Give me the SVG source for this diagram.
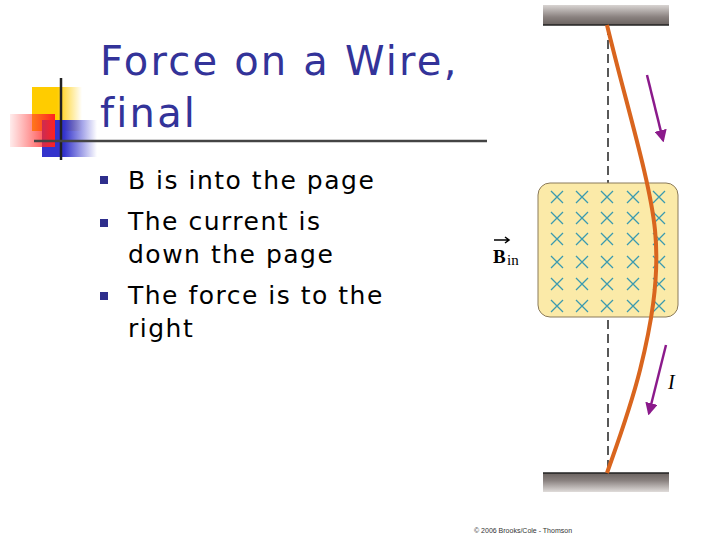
<svg xmlns="http://www.w3.org/2000/svg" width="720" height="540" viewBox="0 0 720 540">
<defs>
<linearGradient id="gy" x1="0" x2="1"><stop offset="0.5" stop-color="#ffcc00"/><stop offset="1" stop-color="#ffcc00" stop-opacity="0"/></linearGradient>
<linearGradient id="gr" x1="1" x2="0"><stop offset="0" stop-color="#ff2020"/><stop offset="1" stop-color="#ff4040" stop-opacity="0.1"/></linearGradient>
<linearGradient id="gb" x1="0" x2="1"><stop offset="0.4" stop-color="#3333cc"/><stop offset="1" stop-color="#3333cc" stop-opacity="0"/></linearGradient>
<linearGradient id="bar" x1="0" y1="0" x2="0" y2="1"><stop offset="0" stop-color="#d8d4d2"/><stop offset="0.6" stop-color="#8a8280"/><stop offset="1" stop-color="#6a625f"/></linearGradient>
<linearGradient id="bar2" x1="0" y1="0" x2="0" y2="1"><stop offset="0" stop-color="#6a625f"/><stop offset="0.4" stop-color="#8a8280"/><stop offset="1" stop-color="#e0dcda"/></linearGradient>
<marker id="ah" viewBox="0 0 10 10" refX="8" refY="5" markerWidth="5" markerHeight="5" orient="auto"><path d="M0,0 L10,5 L0,10 z" fill="#8b1a8b"/></marker>
<g id="x"><path d="M-6,-6 L6,6 M6,-6 L-6,6" stroke="#3a9ab0" stroke-width="1.3"/></g>
</defs>
<style>
.t{font-family:"DejaVu Sans",sans-serif;fill:#333399;font-size:40px;letter-spacing:2.2px}
.b{font-family:"DejaVu Sans",sans-serif;fill:#000;font-size:25px;letter-spacing:1.5px}
.bl{fill:#2e2e8c}
</style>
<rect width="720" height="540" fill="#fff"/>
<g id="logo">
<rect x="32" y="87" width="50" height="44" fill="url(#gy)"/>
<rect x="42" y="120" width="55" height="37" fill="url(#gb)"/>
<rect x="10" y="114" width="45" height="33" fill="url(#gr)"/>
<line x1="61" y1="78" x2="61" y2="160" stroke="#222" stroke-width="2.5"/>
<line x1="34" y1="141" x2="487" y2="141" stroke="#444" stroke-width="2.5"/>
</g>
<g id="title"><text class="t" x="100" y="75">Force on a Wire,</text><text class="t" x="100" y="127">final</text></g>
<g id="bullets">
<rect class="bl" x="100" y="176" width="8" height="8"/>
<rect class="bl" x="100" y="219" width="8" height="8"/>
<rect class="bl" x="100" y="292" width="8" height="8"/>
<text class="b" x="128" y="189">B is into the page</text>
<text class="b" x="128" y="230">The current is</text>
<text class="b" x="128" y="263">down the page</text>
<text class="b" x="128" y="304">The force is to the</text>
<text class="b" x="128" y="337">right</text>
</g>
<g id="figure">
<rect x="543" y="5" width="126" height="20" fill="url(#bar)"/>
<line x1="543" y1="25" x2="669" y2="25" stroke="#222" stroke-width="1.5"/>
<rect x="543" y="473" width="126" height="19" fill="url(#bar2)"/>
<line x1="543" y1="473" x2="669" y2="473" stroke="#222" stroke-width="1.5"/>
<line x1="608" y1="26" x2="608" y2="473" stroke="#222" stroke-width="1.5" stroke-dasharray="9,5"/>
<rect x="538" y="183" width="140" height="134" rx="12" fill="#fbeaa8" stroke="#8a7a5a" stroke-width="1"/>
<g>
<use href="#x" x="557" y="197"/><use href="#x" x="582" y="197"/><use href="#x" x="607" y="197"/><use href="#x" x="633" y="197"/><use href="#x" x="659" y="197"/>
<use href="#x" x="557" y="218"/><use href="#x" x="582" y="218"/><use href="#x" x="607" y="218"/><use href="#x" x="633" y="218"/><use href="#x" x="659" y="218"/>
<use href="#x" x="557" y="239"/><use href="#x" x="582" y="239"/><use href="#x" x="607" y="239"/><use href="#x" x="633" y="239"/><use href="#x" x="659" y="239"/>
<use href="#x" x="557" y="262"/><use href="#x" x="582" y="262"/><use href="#x" x="607" y="262"/><use href="#x" x="633" y="262"/><use href="#x" x="659" y="262"/>
<use href="#x" x="557" y="284"/><use href="#x" x="582" y="284"/><use href="#x" x="607" y="284"/><use href="#x" x="633" y="284"/><use href="#x" x="659" y="284"/>
<use href="#x" x="557" y="306"/><use href="#x" x="582" y="306"/><use href="#x" x="607" y="306"/><use href="#x" x="633" y="306"/><use href="#x" x="659" y="306"/>
</g>
<path d="M607,25 C625,100 650,180 655,230 C660,280 650,330 640,370 C630,410 615,450 607,473" fill="none" stroke="#d9651e" stroke-width="4"/>
<line x1="647" y1="75" x2="663" y2="140" stroke="#8b1a8b" stroke-width="2.5" marker-end="url(#ah)"/>
<line x1="666" y1="345" x2="649" y2="413" stroke="#8b1a8b" stroke-width="2.5" marker-end="url(#ah)"/>
<text x="493" y="263" font-family="Liberation Serif,serif" font-weight="bold" font-size="19">B</text>
<text x="507" y="265" font-family="Liberation Serif,serif" font-size="15">in</text>
<path d="M494,240 L508,240 M505,237 L509,240 L505,243" stroke="#000" stroke-width="1.5" fill="none"/>
<text x="668" y="389" font-family="Liberation Serif,serif" font-style="italic" font-size="20">I</text>
<text x="474" y="533" font-family="Liberation Sans,sans-serif" font-size="7" fill="#333">© 2006 Brooks/Cole - Thomson</text>
</g>
</svg>
